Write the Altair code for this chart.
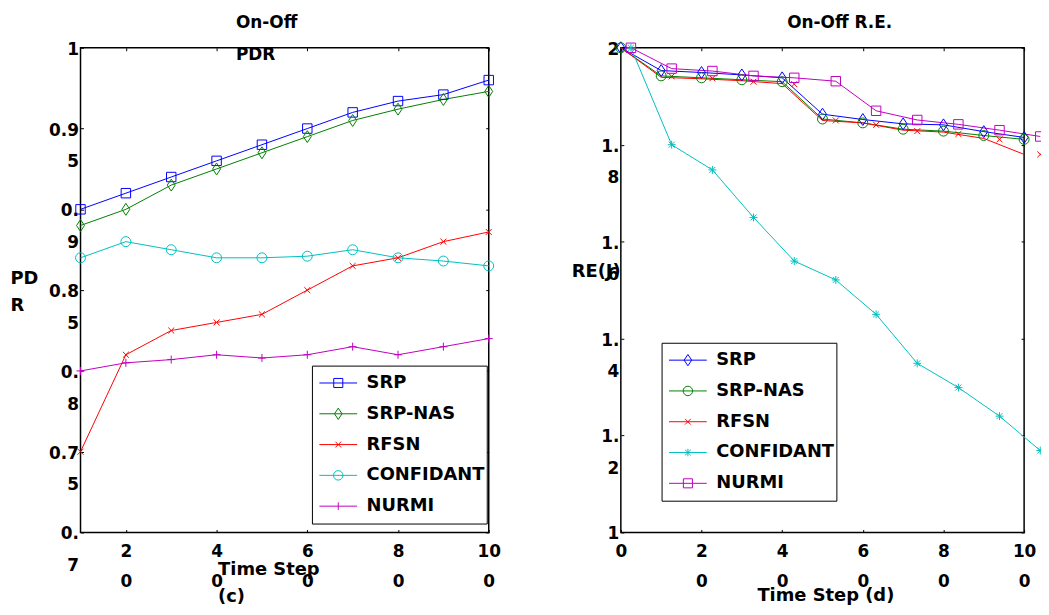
import json
import altair as alt
import pandas as pd

SERIES = ["SRP", "SRP-NAS", "RFSN", "CONFIDANT", "NURMI"]
COLORS = ["#0000ff", "#008000", "#ff0000", "#00bfbf", "#bf00bf"]

# ---------------- panel (c): On-Off PDR ----------------
pdr_x = [10, 20, 30, 40, 50, 60, 70, 80, 90, 100]
pdr_srp = [0.900, 0.910, 0.920, 0.930, 0.940, 0.950, 0.960, 0.967, 0.971, 0.980]
pdr_srp_nas = [0.890, 0.900, 0.915, 0.925, 0.935, 0.945, 0.955, 0.962, 0.968, 0.973]
pdr_rfsn = [0.750, 0.810, 0.825, 0.830, 0.835, 0.850, 0.865, 0.870, 0.880, 0.886]
pdr_confidant = [0.870, 0.880, 0.875, 0.870, 0.870, 0.871, 0.875, 0.870, 0.868, 0.865]
pdr_nurmi = [0.800, 0.805, 0.807, 0.810, 0.808, 0.810, 0.815, 0.810, 0.815, 0.820]

pdr_x_ticks = [20, 40, 60, 80, 100]
pdr_x_labels = ["20", "40", "60", "80", "100"]
pdr_x_split = [1, 1, 1, 1, 2]
pdr_y_ticks = [0.7, 0.75, 0.8, 0.85, 0.9, 0.95, 1.0]
pdr_y_labels = ["0.7", "0.75", "0.8", "0.85", "0.9", "0.95", "1"]
pdr_y_split = [2, 3, 2, 3, 2, 3, None]

# ---------------- panel (d): On-Off R.E. ----------------
re_x = [0, 10, 20, 30, 40, 50, 60, 70, 80, 90, 100]
re_x_shifted = [2.5, 12.6, 22.7, 32.9, 43.0, 53.3, 63.3, 73.5, 83.7, 93.9, 104.0]
re_srp = [2.0, 1.953, 1.949, 1.944, 1.938, 1.863, 1.852, 1.843, 1.841, 1.827, 1.815]
re_srp_nas = [2.0, 1.942, 1.938, 1.934, 1.930, 1.853, 1.845, 1.832, 1.828, 1.819, 1.811]
re_rfsn = [2.0, 1.939, 1.936, 1.932, 1.926, 1.850, 1.845, 1.830, 1.826, 1.813, 1.780]
re_rfsn_marks = [1.941, 1.937, 1.930, 1.925, 1.850, 1.841, 1.828, 1.822, 1.811, 1.780]
re_confidant = [2.0, 1.800, 1.748, 1.650, 1.560, 1.521, 1.450, 1.349, 1.299, 1.240, 1.169]
re_nurmi = [2.0, 1.957, 1.952, 1.942, 1.938, 1.931, 1.870, 1.851, 1.842, 1.830, 1.817]

re_x_ticks = [0, 20, 40, 60, 80, 100]
re_x_labels = ["0", "20", "40", "60", "80", "100"]
re_x_split = [None, 1, 1, 1, 1, 2]
re_y_ticks = [1.0, 1.2, 1.4, 1.6, 1.8, 2.0]
re_y_labels = ["1", "1.2", "1.4", "1.6", "1.8", "2"]
re_y_split = [None, 2, 2, 2, 2, None]

FONT = "DejaVu Sans"
NB = "\u00a0"


def _w(s):
    return sum(1 if c == "." else 2 for c in s)


def wrapped(label, k):
    if k is None:
        return label
    a, b = label[:k], label[k:]
    return [a + NB * _w(b), b + NB * _w(a)]


def label_expr(ticks, labels, splits):
    expr = "''"
    for v, lab, k in reversed(list(zip(ticks, labels, splits))):
        txt = json.dumps(wrapped(lab, k), ensure_ascii=False)
        expr = f"abs(datum.value - ({v})) < 1e-6 ? {txt} : {expr}"
    return expr


def long_df(pairs):
    rows = []
    for s, xs, ys in pairs:
        for x, y in zip(xs, ys):
            rows.append({"series": s, "x": x, "y": y})
    return pd.DataFrame(rows)


pdr_lines = long_df([
    ("SRP", pdr_x, pdr_srp), ("SRP-NAS", pdr_x, pdr_srp_nas), ("RFSN", pdr_x, pdr_rfsn),
    ("CONFIDANT", pdr_x, pdr_confidant), ("NURMI", pdr_x, pdr_nurmi)])
pdr_marks = pdr_lines

re_lines = long_df([
    ("SRP", re_x, re_srp), ("SRP-NAS", re_x, re_srp_nas), ("RFSN", re_x, re_rfsn),
    ("CONFIDANT", re_x_shifted, re_confidant), ("NURMI", re_x_shifted, re_nurmi)])
re_marks = long_df([
    ("SRP", re_x, re_srp), ("SRP-NAS", re_x, re_srp_nas), ("RFSN", re_x_shifted[1:], re_rfsn_marks),
    ("CONFIDANT", re_x_shifted, re_confidant), ("NURMI", re_x_shifted, re_nurmi)])

# marker glyphs (unit paths) and legend glyphs (line through a small marker)
SQUARE = "M-0.95,-0.95H0.95V0.95H-0.95Z"
DIAMOND = "M0,-1.2L0.8,0L0,1.2L-0.8,0Z"
XMARK = "M-0.6,-0.6L0.6,0.6M-0.6,0.6L0.6,-0.6"
CIRCLE = "M-1,0A1,1,0,1,0,1,0A1,1,0,1,0,-1,0Z"
PLUS = "M-0.8,0H0.8M0,-0.8V0.8"
STAR = "M-0.8,0H0.8M0,-0.8V0.8M-0.6,-0.6L0.6,0.6M-0.6,0.6L0.6,-0.6"

LEGEND_GLYPH = {
    SQUARE: "M-1,0H1M-0.24,-0.24H0.24V0.24H-0.24Z",
    DIAMOND: "M-1,0H1M0,-0.3L0.2,0L0,0.3L-0.2,0Z",
    XMARK: "M-1,0H1M-0.15,-0.15L0.15,0.15M-0.15,0.15L0.15,-0.15",
    CIRCLE: "M-1,0H1M-0.25,0A0.25,0.25,0,1,0,0.25,0A0.25,0.25,0,1,0,-0.25,0Z",
    PLUS: "M-1,0H1M0,-0.2V0.2",
    STAR: "M-1,0H1M0,-0.2V0.2M-0.15,-0.15L0.15,0.15M-0.15,0.15L0.15,-0.15",
}

pdr_markers = [SQUARE, DIAMOND, XMARK, CIRCLE, PLUS]
re_markers = [DIAMOND, CIRCLE, XMARK, STAR, SQUARE]


def tick_axis(orient, ticks, **kw):
    return alt.Axis(orient=orient, values=ticks, labels=False, domain=False, grid=False,
                    ticks=True, tickSize=3, tickColor="black", tickWidth=1, offset=-3,
                    minExtent=0, **kw)


def panel(lines_df, marks_df, markers, xdom, ydom, xt, xl, xs_, yt, yl, ys_, w, h,
          title, title_dx, xtitle, xtx, xty, ytitle, ytx, yty, lx, ly):
    xsc = alt.Scale(domain=xdom, nice=False, zero=False)
    ysc = alt.Scale(domain=ydom, nice=False, zero=False)
    csc = alt.Scale(domain=SERIES, range=COLORS)

    x_axis = alt.Axis(orient="bottom", values=xt, labelExpr=label_expr(xt, xl, xs_),
                      ticks=False, tickSize=0, domain=False, grid=False, labelFlush=False,
                      labelOverlap=False, labelPadding=11, labelAlign="center", labelBaseline="top",
                      labelLineHeight=30, title=xtitle, titleX=xtx, titleY=xty, titleAlign="left",
                      titleAnchor="start", titleBaseline="alphabetic", titleLineHeight=28,
                      minExtent=0)
    y_axis = alt.Axis(orient="left", values=yt, labelExpr=label_expr(yt, yl, ys_),
                      ticks=False, tickSize=0, domain=False, grid=False, labelFlush=False,
                      labelOverlap=False, labelPadding=2, labelAlign="right",
                      labelBaseline="alphabetic", labelOffset=6.5, labelLineHeight=32,
                      title=ytitle, titleAngle=0, titleX=ytx, titleY=yty, titleAlign="left",
                      titleAnchor="start", titleBaseline="alphabetic", titleLineHeight=28,
                      minExtent=0)
    top_axis = tick_axis("top", xt, title=title, titleX=title_dx, titleY=-23, titleAngle=0,
                         titleAlign="left", titleAnchor="start", titleBaseline="alphabetic",
                         titleFontSize=17, titleLineHeight=32)

    lines = alt.Chart(lines_df).mark_line(strokeWidth=1).encode(
        x=alt.X("x:Q", scale=xsc, axis=x_axis),
        y=alt.Y("y:Q", scale=ysc, axis=y_axis),
        color=alt.Color("series:N", scale=csc, legend=None),
        order="x:Q",
    )
    points = alt.Chart(marks_df).mark_point(filled=False, size=100, strokeWidth=1, opacity=1).encode(
        x=alt.X("x:Q", scale=xsc, axis=top_axis),
        y=alt.Y("y:Q", scale=ysc, axis=tick_axis("right", yt, title=None)),
        color=alt.Color("series:N", scale=csc, legend=None),
        shape=alt.Shape("series:N", scale=alt.Scale(domain=SERIES, range=markers), legend=None),
    )
    leg = dict(title=None, orient="none", legendX=lx, legendY=ly, strokeColor="black",
               fillColor="white", padding=2, symbolOffset=5, labelOffset=9, clipHeight=31,
               rowPadding=0, symbolSize=1444, symbolStrokeWidth=1, symbolOpacity=1,
               labelFont=FONT, labelFontSize=18, labelFontWeight="bold", labelColor="black",
               labelLimit=400)
    legend_layer = alt.Chart(marks_df).mark_point(filled=False, opacity=0).encode(
        x=alt.X("x:Q", scale=xsc, axis=tick_axis("bottom", xt, title=None)),
        y=alt.Y("y:Q", scale=ysc, axis=tick_axis("left", yt, title=None)),
        color=alt.Color("series:N", scale=csc, legend=alt.Legend(**leg)),
        shape=alt.Shape("series:N",
                        scale=alt.Scale(domain=SERIES, range=[LEGEND_GLYPH[m] for m in markers]),
                        legend=alt.Legend(**leg)),
    )
    return alt.layer(lines, points, legend_layer).resolve_scale(
        color="independent", shape="independent"
    ).resolve_axis(x="independent", y="independent").properties(width=w, height=h)


left = panel(pdr_lines, pdr_marks, pdr_markers, [10, 100], [0.7, 1.0],
             pdr_x_ticks, pdr_x_labels, pdr_x_split, pdr_y_ticks, pdr_y_labels, pdr_y_split,
             411, 488, ["On-Off", "PDR"], 156, ["Time Step", "(c)"], 138, 42,
             ["PD", "R"], -71, 237, 233, 320)
right = panel(re_lines, re_marks, re_markers, [0, 100], [1.0, 2.0],
              re_x_ticks, re_x_labels, re_x_split, re_y_ticks, re_y_labels, re_y_split,
              406, 488, "On-Off R.E.", 167, "Time Step (d)", 137, 68,
              "RE(J)", -50, 230, 41, 297)

chart = alt.hconcat(left, right, spacing=69).resolve_scale(
    x="independent", y="independent", color="independent", shape="independent"
).resolve_legend(color="independent", shape="independent").properties(
    padding={"left": 1, "top": 3, "right": -7, "bottom": 0}, background="white"
).configure_view(stroke="black", strokeWidth=1.5).configure_axis(
    labelFont=FONT, labelFontSize=17, labelFontWeight="bold", labelColor="black",
    titleFont=FONT, titleFontSize=18, titleFontWeight="bold", titleColor="black",
)

chart.save("out.html", embed_options={"renderer": "svg", "actions": False})
